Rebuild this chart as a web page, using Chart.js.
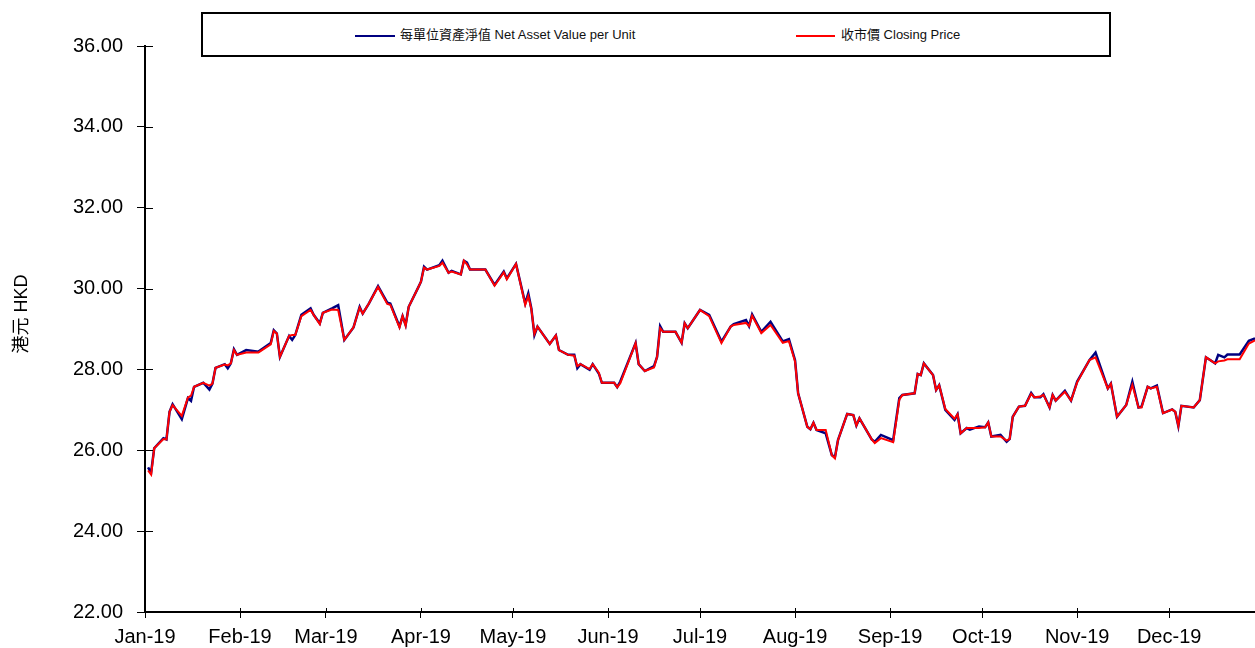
<!DOCTYPE html>
<html>
<head>
<meta charset="utf-8">
<script src="https://cdn.jsdelivr.net/npm/chart.js@4.4.1/dist/chart.umd.min.js"></script>
<style>
  body { margin: 0; background: #fff; }
  #wrap { position: relative; width: 1255px; height: 648px; }
  #legend {
    position: absolute; left: 201px; top: 12px; width: 906px; height: 41px;
    border: 2px solid #000; background: #fff;
    font-family: 'Liberation Sans', 'Noto Sans CJK TC', sans-serif; font-size: 13px; color: #111;
  }
  .item { position: absolute; top: 13px; white-space: nowrap; line-height: 16px; }
  .swatch { display: inline-block; width: 40px; height: 2px; vertical-align: middle; margin-right: 5px; }
</style>
</head>
<body>
<div id="wrap">
  <canvas id="lineChart" width="1255" height="648"></canvas>
  <div id="legend">
    <div class="item" style="left:152px"><span class="swatch" style="background:#000080"></span>每單位資產淨值 Net Asset Value per Unit</div>
    <div class="item" style="left:593px"><span class="swatch" style="width:39px;margin-right:6px;background:#ff0000"></span>收市價 Closing Price</div>
  </div>
</div>
<script>
// tanggal (2019) dan nilai
const dates = ['01-02','01-03','01-04','01-07','01-08','01-09','01-10','01-13','01-15','01-16','01-17','01-20','01-22','01-23','01-24','01-27','01-28','01-29','01-30','01-31',
  '02-03','02-07','02-11','02-12','02-13','02-14','02-17','02-18','02-19','02-21','02-24','02-25','02-27','02-28',
  '03-03','03-05','03-07','03-10','03-12','03-13','03-15','03-18','03-21','03-22','03-25','03-26','03-27','03-28','03-31',
  '04-01','04-02','04-03','04-07','04-08','04-10','04-11','04-14','04-15','04-16','04-17','04-22','04-25','04-28','04-29',
  '05-02','05-05','05-06','05-07','05-08','05-09','05-13','05-15','05-16','05-19','05-21','05-22','05-23','05-26','05-27','05-29','05-30',
  '06-03','06-04','06-05','06-10','06-11','06-13','06-16','06-17','06-18','06-19','06-23','06-25','06-26','06-27',
  '07-01','07-04','07-08','07-11','07-12','07-16','07-17','07-18','07-21','07-24','07-28','07-30',
  '08-01','08-02','08-05','08-06','08-07','08-08','08-11','08-13','08-14','08-15','08-18','08-20','08-21','08-22','08-26','08-27','08-29',
  '09-02','09-04','09-05','09-09','09-10','09-11','09-12','09-15','09-16','09-17','09-19','09-22','09-23','09-24','09-26','09-27','09-30',
  '10-02','10-03','10-04','10-07','10-09','10-10','10-11','10-13','10-15','10-17','10-18','10-20','10-21','10-23','10-24','10-25','10-28','10-30',
  '11-01','11-05','11-07','11-11','11-12','11-14','11-17','11-19','11-21','11-22','11-24','11-25','11-27','11-29',
  '12-02','12-03','12-04','12-05','12-09','12-11','12-13','12-16','12-17','12-19','12-20','12-24','12-27','12-29','12-31'];

const nav = [25.58,25.45,26.05,26.30,26.27,26.95,27.14,26.77,27.29,27.22,27.57,27.67,27.50,27.65,28.04,28.13,28.03,28.15,28.50,28.36,
  28.48,28.44,28.65,28.97,28.89,28.31,28.83,28.73,28.85,29.35,29.51,29.35,29.14,29.40,
  29.51,29.59,28.73,29.04,29.55,29.38,29.63,30.06,29.65,29.63,29.06,29.32,29.10,29.55,30.01,
  30.17,30.54,30.47,30.58,30.69,30.39,30.44,30.35,30.69,30.64,30.47,30.47,30.09,30.42,30.25,
  30.61,29.63,29.88,29.51,28.85,29.06,28.63,28.84,28.48,28.36,28.36,28.03,28.13,27.99,28.13,27.90,27.67,
  27.67,27.56,27.70,28.65,28.13,27.96,28.08,28.31,29.07,28.93,28.93,28.66,29.14,29.02,
  29.47,29.35,28.69,29.06,29.12,29.22,29.07,29.36,28.93,29.18,28.69,28.75,
  28.23,27.41,26.58,26.52,26.68,26.50,26.42,25.88,25.83,26.25,26.90,26.87,26.61,26.79,26.27,26.21,26.38,
  26.25,27.29,27.37,27.41,27.89,27.86,28.15,27.86,27.49,27.61,27.00,26.75,26.89,26.42,26.55,26.51,26.59,
  26.57,26.69,26.34,26.38,26.21,26.28,26.83,27.08,27.10,27.42,27.31,27.31,27.39,27.06,27.37,27.23,27.47,27.23,
  27.70,28.23,28.42,27.53,27.65,26.83,27.12,27.70,27.06,27.08,27.57,27.53,27.60,26.92,
  27.01,26.95,26.60,27.10,27.06,27.24,28.30,28.15,28.36,28.30,28.37,28.37,28.71,28.77,28.85];

const price = [25.50,25.40,26.05,26.28,26.27,26.95,27.12,26.85,27.30,27.35,27.57,27.67,27.60,27.65,28.04,28.12,28.10,28.15,28.48,28.36,
  28.42,28.42,28.62,28.95,28.89,28.31,28.83,28.85,28.85,29.32,29.47,29.35,29.12,29.40,
  29.48,29.47,28.73,29.04,29.53,29.38,29.63,30.04,29.62,29.60,29.04,29.32,29.08,29.55,30.01,
  30.17,30.52,30.47,30.56,30.64,30.39,30.42,30.35,30.69,30.60,30.47,30.47,30.07,30.40,30.23,
  30.61,29.60,29.82,29.49,28.88,29.06,28.63,28.84,28.48,28.36,28.34,28.08,28.13,28.01,28.13,27.92,27.67,
  27.67,27.56,27.66,28.65,28.13,27.96,28.05,28.31,29.02,28.93,28.93,28.66,29.14,29.02,
  29.47,29.32,28.65,29.06,29.10,29.15,29.07,29.33,28.90,29.10,28.66,28.70,
  28.20,27.41,26.58,26.52,26.68,26.50,26.50,25.88,25.80,26.25,26.90,26.87,26.61,26.79,26.27,26.18,26.30,
  26.20,27.25,27.37,27.41,27.89,27.86,28.15,27.86,27.49,27.61,27.02,26.78,26.89,26.42,26.55,26.55,26.55,
  26.57,26.69,26.34,26.34,26.24,26.28,26.83,27.08,27.10,27.40,27.31,27.33,27.37,27.06,27.37,27.23,27.45,27.23,
  27.68,28.23,28.30,27.53,27.65,26.83,27.12,27.62,27.06,27.06,27.57,27.53,27.57,26.92,
  27.01,26.95,26.60,27.10,27.06,27.24,28.30,28.15,28.20,28.22,28.25,28.25,28.64,28.72,28.80];

// awal bulan (hari ke- dalam tahun) untuk tick sumbu x
const monthStarts = [0, 31, 59, 90, 120, 151, 181, 212, 243, 273, 304, 334];
const monthLabels = ['Jan-19','Feb-19','Mar-19','Apr-19','May-19','Jun-19','Jul-19','Aug-19','Sep-19','Oct-19','Nov-19','Dec-19'];
const yTicks = [22, 24, 26, 28, 30, 32, 34, 36];

function dayOfYear(s) {
  var p = s.split('-');
  return (Date.UTC(2019, +p[0] - 1, +p[1]) - Date.UTC(2019, 0, 1)) / 86400000;
}

// tick yang memotong sumbu (bagian dalam area chart)
const innerTicks = {
  id: 'innerTicks',
  afterDraw: function (chart) {
    var c = chart.ctx, xs = chart.scales.x, ys = chart.scales.y, a = chart.chartArea;
    c.save();
    c.strokeStyle = '#000';
    c.lineWidth = 1;
    c.beginPath();
    monthStarts.forEach(function (v) {
      var px = Math.round(xs.getPixelForValue(v)) + 0.5;
      c.moveTo(px, a.bottom); c.lineTo(px, a.bottom - 4);
    });
    yTicks.forEach(function (v) {
      var py = Math.round(ys.getPixelForValue(v)) + 0.5;
      c.moveTo(a.left, py); c.lineTo(a.left + 8, py);
    });
    c.stroke();
    c.restore();
  }
};

var font = "'Liberation Sans', 'Noto Sans CJK TC', sans-serif";
var ctx = document.getElementById('lineChart').getContext('2d');
var myChart = new Chart(ctx, {
    type: 'line',
    data: {
        datasets: [{
            label: '每單位資產淨值 Net Asset Value per Unit',
            data: dates.map((d, i) => ({ x: dayOfYear(d), y: nav[i] })),
            borderColor: '#000080',
            borderWidth: 2.5,
            pointRadius: 0,
            tension: 0,
            order: 2
        }, {
            label: '收市價 Closing Price',
            data: dates.map((d, i) => ({ x: dayOfYear(d), y: price[i] })),
            borderColor: '#ff0000',
            borderWidth: 2,
            pointRadius: 0,
            tension: 0,
            order: 1
        }]
    },
    options: {
        responsive: false,
        animation: false,
        layout: { padding: { top: 46, right: 0, bottom: 0, left: 0 } },
        plugins: { legend: { display: false }, tooltip: { enabled: false } },
        scales: {
            x: {
                type: 'linear',
                min: 0,
                max: 362,
                afterFit: function (scale) { scale.height = 36; },
                afterBuildTicks: function (scale) {
                    scale.ticks = monthStarts.map(v => ({ value: v }));
                },
                ticks: {
                    autoSkip: false,
                    maxRotation: 0,
                    padding: 7,
                    color: '#000',
                    font: { family: font, size: 20 },
                    callback: function (value, index) { return monthLabels[index]; }
                },
                grid: { drawOnChartArea: false, tickLength: 6, color: '#000', tickWidth: 1 },
                border: { color: '#000', width: 2 }
            },
            y: {
                min: 22,
                max: 36,
                afterFit: function (scale) { scale.width = 145; },
                afterBuildTicks: function (scale) {
                    scale.ticks = yTicks.map(v => ({ value: v }));
                },
                ticks: {
                    padding: 14,
                    color: '#000',
                    font: { family: font, size: 20 },
                    callback: function (value) { return value.toFixed(2); }
                },
                grid: { drawOnChartArea: false, tickLength: 8, color: '#000', tickWidth: 1 },
                border: { color: '#000', width: 2 },
                title: {
                    display: true,
                    text: '      港元 HKD',
                    color: '#000',
                    font: { family: font, size: 18 },
                    padding: { top: 11, bottom: 0 }
                }
            }
        }
    },
    plugins: [innerTicks]
});
</script>
</body>
</html>
